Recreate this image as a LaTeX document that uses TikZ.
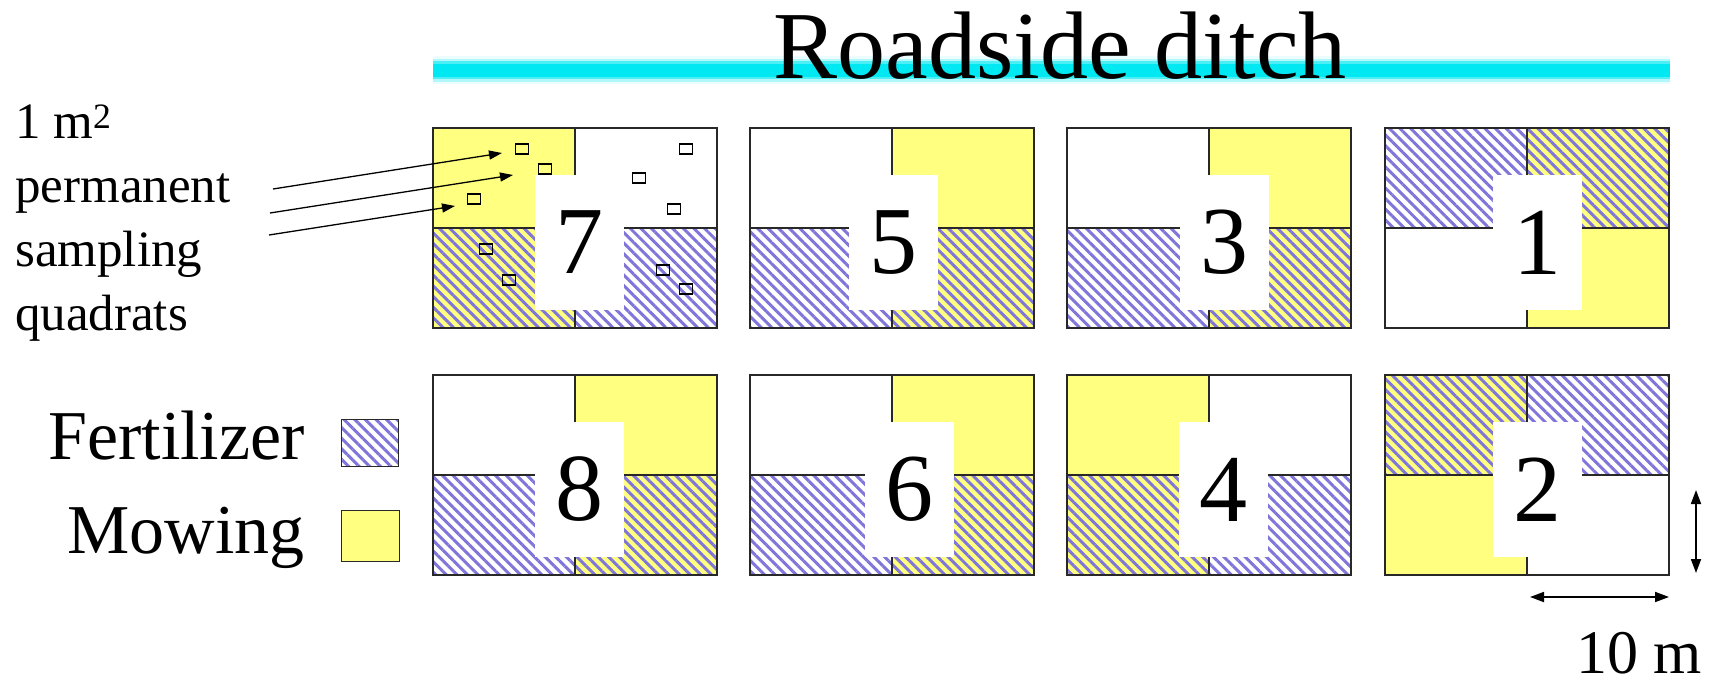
\documentclass[tikz,border=0pt]{standalone}
\usepackage{fontspec}
\setmainfont{Liberation Serif}
\usetikzlibrary{patterns.meta, arrows.meta, calc}

\definecolor{mowyellow}{RGB}{255,255,128}
\definecolor{fertblue}{RGB}{128,118,218}
\definecolor{ditchcyan}{RGB}{0,232,242}
\definecolor{plotline}{RGB}{40,40,40}

\begin{document}
\begin{tikzpicture}[
    x=1pt, y=-1pt,
    % treatments of the quarter plots
    bare/.style={fill=white},
    mowing/.style={fill=mowyellow},
    fertil/.style={pattern={Lines[angle=-45, distance=7.5pt, line width=3pt]}, pattern color=fertblue},
    fertmow/.style={preaction={fill=mowyellow}, fertil},
    % outlines, boxes and labels
    plotedge/.style={draw=plotline, line width=1.4pt},
    numbox/.style={fill=white, inner sep=0pt, minimum width=89pt, minimum height=135pt,
      font=\fontsize{96}{100}\selectfont},
    quadrat/.style={draw=black, line width=1.1pt, inner sep=0pt, minimum width=13pt, minimum height=10pt},
    keybox/.style={draw=plotline, line width=1.4pt, inner sep=0pt, anchor=north west},
    pointer/.style={line width=1.3pt, -{Triangle[length=13pt, width=9pt]}},
    scalearrow/.style={line width=1.8pt, {Triangle[length=14pt, width=10pt]}-{Triangle[length=14pt, width=10pt]}},
    keytext/.style={font=\fontsize{70}{76}\selectfont, anchor=base east, inner sep=0pt}
  ]
  \useasboundingbox (0,0) rectangle (1709,680);

  % roadside ditch
  \draw[ditchcyan!8, line width=28pt] (433,70) -- (1670,70);
  \draw[ditchcyan!30, line width=23pt] (433,70) -- (1670,70);
  \draw[ditchcyan!70, line width=18pt] (433,70) -- (1670,70);
  \draw[ditchcyan, line width=13pt] (433,70) -- (1670,70);
  \node[font=\fontsize{96}{100}\selectfont, anchor=base, inner sep=0pt] (ditch) at (1060,78) {Roadside ditch};

  % the eight plots: left/top/TL/TR/BL/BR/number/box offset
  \foreach \px/\py/\ta/\tb/\tc/\td/\n/\bx in {
      433/128/mowing/bare/fertmow/fertil/7/102,
      750/128/bare/mowing/fertil/fertmow/5/99,
      1067/128/bare/mowing/fertil/fertmow/3/113,
      1385/128/fertil/fertmow/bare/mowing/1/108,
      433/375/bare/mowing/fertil/fertmow/8/102,
      750/375/bare/mowing/fertil/fertmow/6/115,
      1067/375/mowing/bare/fertmow/fertil/4/112,
      1385/375/fertmow/fertil/mowing/bare/2/108}{
    \path[\ta] (\px,\py) rectangle ++(142,100);
    \path[\tb] (\px+142,\py) rectangle ++(142,100);
    \path[\tc] (\px,\py+100) rectangle ++(142,100);
    \path[\td] (\px+142,\py+100) rectangle ++(142,100);
    \draw[plotedge] (\px,\py) rectangle ++(284,200)
      (\px,\py+100) -- ++(284,0) (\px+142,\py) -- ++(0,200);
    \node[numbox] (plot\n) at (\px+\bx+44.5,\py+114.5) {\n};
  }
  \coordinate (p1mid) at (1385,228);
  \draw[plotline, line width=2.8pt] (p1mid) -- (plot1.west |- p1mid);

  % permanent quadrats in plot 7
  \foreach \qx/\qy [count=\k] in {522/149, 545/169, 474/199, 686/149, 639/178,
      674/209, 486/249, 509/280, 663/270, 686/289}
    \node[quadrat] (q\k) at (\qx,\qy) {};

  \node[font=\fontsize{51}{64}\selectfont, align=left, anchor=base west, inner sep=0pt] (quadlbl) at (15,330)
    {1 m\textsuperscript{2}\\permanent\\sampling\\quadrats};
  \coordinate (s1) at (273,189);
  \coordinate (s2) at (270,213);
  \coordinate (s3) at (269,235);
  \coordinate (t1) at (502,153);
  \coordinate (t2) at (513,175);
  \coordinate (t3) at (455,206);
  \draw[pointer] (s1) -- (t1);
  \draw[pointer] (s2) -- (t2);
  \draw[pointer] (s3) -- (t3);

  % key
  \node[keytext] (fertlbl) at (305,459) {Fertilizer};
  \node[keytext] (mowlbl) at (305,553) {Mowing};
  \node[keybox, fertil, minimum width=57pt, minimum height=47pt] (fertkey) at (341,419) {};
  \node[keybox, mowing, minimum width=58pt, minimum height=51pt] (mowkey) at (341,510) {};

  % scale
  \coordinate (vtop) at (1696,490);
  \coordinate (vbot) at (1696,573);
  \coordinate (hleft) at (1530,597);
  \coordinate (hright) at (1669,597);
  \draw[scalearrow] (vtop) -- (vbot);
  \draw[scalearrow] (hleft) -- (hright);
  \node[keytext, font=\fontsize{62}{70}\selectfont] (scalelbl) at (1702,673) {10 m};
\end{tikzpicture}
\end{document}
